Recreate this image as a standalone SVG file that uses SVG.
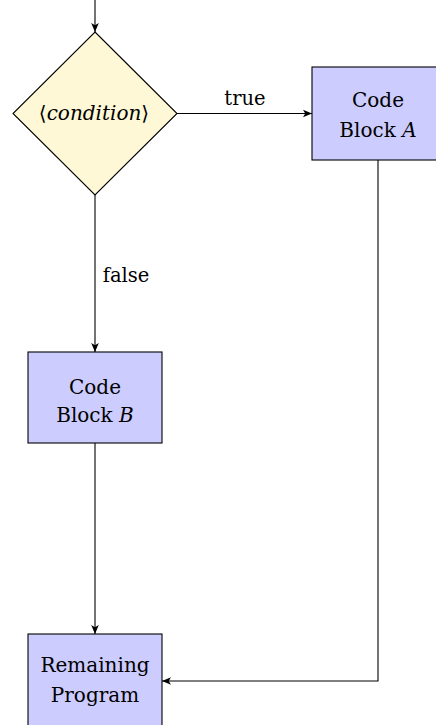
<svg xmlns="http://www.w3.org/2000/svg" width="436" height="725" viewBox="0 0 436 725">
<style>
.dec{fill:#fff8d6;stroke:#000;stroke-width:1.1}
.blk{fill:#ccccff;stroke:#000;stroke-width:1.1}
.e{stroke:#000;stroke-width:1.1;fill:none}
</style>
<defs>
<marker id="arr" markerWidth="11" markerHeight="9" refX="9" refY="4.5" orient="auto" markerUnits="userSpaceOnUse">
<path d="M0,0.7 L9,4.5 L0,8.3 L2.2,4.5 z" fill="#000"/>
</marker>
</defs>
<rect width="436" height="725" fill="#fff"/>
<g id="connectors">
<line class="e" x1="95" y1="0" x2="95" y2="32" marker-end="url(#arr)"/>
<line class="e" x1="177" y1="113.5" x2="312" y2="113.5" marker-end="url(#arr)"/>
<line class="e" x1="95" y1="195" x2="95" y2="352" marker-end="url(#arr)"/>
<line class="e" x1="95" y1="443" x2="95" y2="634" marker-end="url(#arr)"/>
<polyline class="e" points="378,160 378,681 162,681" marker-end="url(#arr)"/>
<text font-family="DejaVu Serif" font-size="19.5" text-anchor="middle" x="245" y="105">true</text>
<text font-family="DejaVu Serif" font-size="19.5" text-anchor="middle" x="126" y="282">false</text>
</g>
<g id="condition">
<polygon class="dec" points="95,32 177,113.5 95,195 13,113.5"/>
<text font-family="DejaVu Serif" font-size="20" text-anchor="middle" x="94" y="120">⟨<tspan font-style="italic">condition</tspan>⟩</text>
</g>
<g id="blockA">
<rect class="blk" x="312" y="67" width="134" height="93"/>
<text font-family="DejaVu Serif" font-size="20" text-anchor="middle" x="378" y="107">Code</text>
<text font-family="DejaVu Serif" font-size="20" text-anchor="middle" x="378" y="137">Block <tspan font-style="italic">A</tspan></text>
</g>
<g id="blockB">
<rect class="blk" x="28" y="352" width="134" height="91"/>
<text font-family="DejaVu Serif" font-size="20" text-anchor="middle" x="95" y="394">Code</text>
<text font-family="DejaVu Serif" font-size="20" text-anchor="middle" x="95" y="422">Block <tspan font-style="italic">B</tspan></text>
</g>
<g id="remaining">
<rect class="blk" x="28" y="634" width="134" height="93"/>
<text font-family="DejaVu Serif" font-size="20" text-anchor="middle" x="95" y="672">Remaining</text>
<text font-family="DejaVu Serif" font-size="20" text-anchor="middle" x="95" y="702">Program</text>
</g>
</svg>
